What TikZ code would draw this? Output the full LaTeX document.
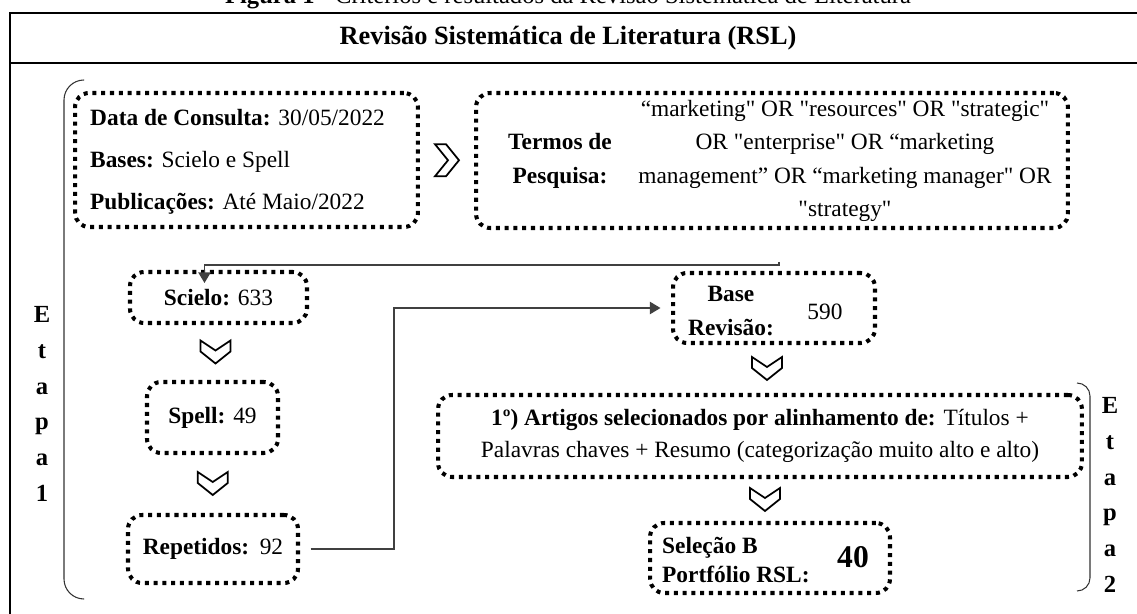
\documentclass[tikz,border=0pt]{standalone}
\usepackage{fontspec}
\setmainfont{Liberation Serif}[Ligatures=TeXOff]
\usetikzlibrary{calc,arrows.meta}

\begin{document}
\begin{tikzpicture}[x=0.02cm,y=-0.02cm]
    \tikzset{font={\fontsize{13.3pt}{18pt}\selectfont},
      box/.style={draw,line width=2.3pt,dash pattern=on 2.3pt off 2.7pt,rounded corners=8pt,inner sep=0pt},
      conn/.style={black!75,line width=.8pt},
      tip/.style={-{Triangle[length=6pt,width=7pt]}},
      brk/.style={black!80,line width=.6pt},
      chev/.style={line width=1pt,line join=miter},
      etapa/.style={font={\bfseries\fontsize{14pt}{20.3pt}\selectfont},align=center},
      chevdown/.pic={\draw[chev] (-15,-12)--(0,-2)--(15,-12)--(15,-1)--(0,11)--(-15,-1)--cycle;},
      chevright/.pic={\draw[chev] (-12,-16)--(-1,-16)--(12,0)--(-1,16)--(-12,16)--(1,0)--cycle;}}
    \useasboundingbox (0,0) rectangle (1137,614);
    % frame and heading
    \node[anchor=base,font={\fontsize{14pt}{16pt}\selectfont}] (caption) at (568,4)
      {\textbf{Figura 1} - Critérios e resultados da Revisão Sistemática de Literatura};
    \draw[line width=1pt] (10,13) rectangle (1160,640);
    \draw[line width=1pt] (10,63)--(1160,63);
    \node[font={\bfseries\fontsize{15pt}{18pt}\selectfont}] (title) at (568,38)
      {Revisão Sistemática de Literatura (RSL)};
    % etapa 1
    \draw[brk,rounded corners=4mm] (84,80)--(64,80)--(64,599)--(84,599);
    \node[etapa] (etapa1) at (42,404) {E\\t\\a\\p\\a\\1};
    \node[box,minimum width=68.6mm,minimum height=26.8mm] (cons) at (246.5,160) {};
    \node[anchor=west,align=left,font={\fontsize{13.3pt}{24pt}\selectfont}] (consTxt) at (84,162)
      {\textbf{Data de Consulta:} 30/05/2022\\\textbf{Bases:} Scielo e Spell\\\textbf{Publicações:} Até Maio/2022};
    \node[box,minimum width=118.4mm,minimum height=27mm] (termos) at (772,160.5) {};
    \node[align=center,font={\bfseries\fontsize{13.3pt}{19pt}\selectfont}] (termosLbl) at (560,161) {Termos de\\Pesquisa:};
    \node[align=center,font={\fontsize{13.3pt}{19pt}\selectfont}] (termosTxt) at (845,161)
      {“marketing" OR "resources" OR "strategic"\\OR "enterprise" OR “marketing\\management” OR “marketing manager" OR\\"strategy"};
    \pic at ($(cons.east)!.5!(termos.west)$) {chevright};
    \node[box,minimum width=35.4mm,minimum height=10.2mm] (scielo) at (218.5,297.5) {\textbf{Scielo:} 633};
    \node[box,minimum width=26.2mm,minimum height=14.2mm] (spell) at (212.5,417.5) {\textbf{Spell:} 49};
    \node[box,minimum width=34mm,minimum height=13.6mm] (rep) at (213,549) {\textbf{Repetidos:}\hspace{.45em}92};
    \pic at ($(scielo.south)!.5!(spell.north)$) {chevdown};
    \pic at ($(spell.south)!.5!(rep.north)$) {chevdown};
    \coordinate (tEnd) at (779,262);
    \draw[conn,tip] (tEnd)--++(0,3)-|($(scielo.north)+(-14,13)$);
    % etapa 2
    \node[box,minimum width=40.4mm,minimum height=14mm] (base) at (774,308) {};
    \node[align=center,font={\bfseries\fontsize{13.3pt}{19pt}\selectfont}] (baseLbl) at (731,311) {Base\\Revisão:};
    \node (baseNum) at (825,312) {590};
    \draw[conn,tip,shorten <=6pt,shorten >=6pt] (rep.east)--++(94,0)|-(base.west);
    \node[box,minimum width=128.8mm,minimum height=16.4mm,align=center] (art) at (760,436)
      {\textbf{1º) Artigos selecionados por alinhamento de:} Títulos +\\Palavras chaves + Resumo (categorização muito alto e alto)};
    \node[box,minimum width=48mm,minimum height=14mm] (sel) at (770,558) {};
    \node[anchor=west,align=left,font={\bfseries\fontsize{13.3pt}{17pt}\selectfont}] (selLbl) at (656,560) {Seleção B\\Portfólio RSL:};
    \node[font={\bfseries\fontsize{18pt}{20pt}\selectfont}] (selNum) at (853,557) {40};
    \pic at ($(base.south)!.5!(art.north)$) {chevdown};
    \pic at ($(art.south)!.5!(sel.north)$) {chevdown};
    \draw[brk,rounded corners=2.6mm] (1077,383)--(1090,383)--(1090,591)--(1077,591);
    \node[etapa] (etapa2) at (1110,495) {E\\t\\a\\p\\a\\2};
\end{tikzpicture}
\end{document}
